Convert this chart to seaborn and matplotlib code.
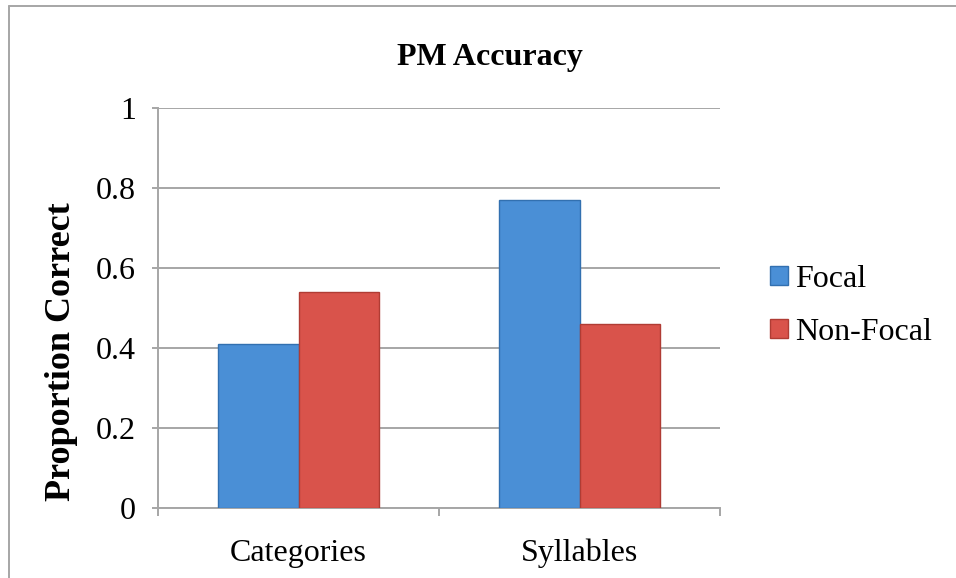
import pandas as pd
import numpy as np
import matplotlib.pyplot as plt
import seaborn as sns
from matplotlib.lines import Line2D

categories = ["Categories", "Syllables"]
conditions = ["Focal", "Non-Focal"]
focal = [0.41, 0.77]
non_focal = [0.54, 0.46]

df = pd.DataFrame({
    "task": categories * 2,
    "condition": ["Focal"] * 2 + ["Non-Focal"] * 2,
    "accuracy": focal + non_focal,
})

sns.set_theme(style="white")
plt.rcParams['font.family'] = ['Liberation Serif', 'DejaVu Serif']
plt.rcParams['text.color'] = 'black'

colors = {"Focal": "#4a8fd6", "Non-Focal": "#d9534b"}
edges = {"Focal": "#3270b0", "Non-Focal": "#b03c34"}

fig = plt.figure(figsize=(9.56, 5.78), dpi=100)
ax = fig.add_axes([158 / 956, 70 / 578, 562 / 956, 400 / 578])

sns.barplot(data=df, x="task", y="accuracy", hue="condition", order=categories,
            hue_order=conditions, palette=colors, width=0.57, ax=ax,
            saturation=1, legend=False, zorder=3)

# darker outline per series
for cont, cond in zip(ax.containers, conditions):
    for bar in cont:
        bar.set_edgecolor(edges[cond])
        bar.set_linewidth(1.0)

ax.set_ylim(0, 1)
ax.set_xlim(-0.5, 1.5)
ax.set_yticks(np.arange(0, 1.01, 0.2))
ax.set_yticklabels(["0", "0.2", "0.4", "0.6", "0.8", "1"])
ax.yaxis.grid(True, color="#a6a6a6", linewidth=1.4, zorder=0)
ax.set_axisbelow(True)

for s in ["top", "right"]:
    ax.spines[s].set_visible(False)
for s in ["left", "bottom"]:
    ax.spines[s].set_color("#a6a6a6")
    ax.spines[s].set_linewidth(1.4)

ax.tick_params(axis="y", which="major", direction="out", length=4, width=1.4,
               color="#a6a6a6", labelsize=23, pad=12, left=True)
ax.tick_params(axis="x", which="major", length=0, labelsize=23, pad=22)
ax.set_xticks([-0.5, 0.5, 1.5], minor=True)
ax.tick_params(axis="x", which="minor", direction="out", length=6, width=1.4,
               color="#a6a6a6", bottom=True)
for lab in ax.get_xticklabels() + ax.get_yticklabels():
    lab.set_color("black")

ax.set_xlabel("")
ax.set_ylabel("Proportion Correct", fontsize=26, fontweight="bold", color="black")
ax.yaxis.set_label_coords(-0.142, 0.39)
fig.text(490 / 956, 1 - 57 / 578, "PM Accuracy", ha="center", va="center",
         fontsize=23, fontweight="bold", color="black")

handles = [plt.Rectangle((0, 0), 1, 1, facecolor=colors[c], edgecolor=edges[c]) for c in conditions]
leg = fig.legend(handles, conditions, loc="center left", bbox_to_anchor=(770 / 956, 1 - 306 / 578),
                 frameon=False, fontsize=23, handlelength=0.55, handleheight=0.55,
                 handletextpad=0.25, labelspacing=0.75, borderaxespad=0, borderpad=0)
for t in leg.get_texts():
    t.set_color("black")

# outer chart border (left and top)
fig.add_artist(Line2D([9 / 956, 9 / 956], [0, 1 - 6 / 578], color="#a6a6a6", linewidth=1.4))
fig.add_artist(Line2D([9 / 956, 1], [1 - 6 / 578, 1 - 6 / 578], color="#a6a6a6", linewidth=1.4))

fig.savefig("out.png", dpi=100)
